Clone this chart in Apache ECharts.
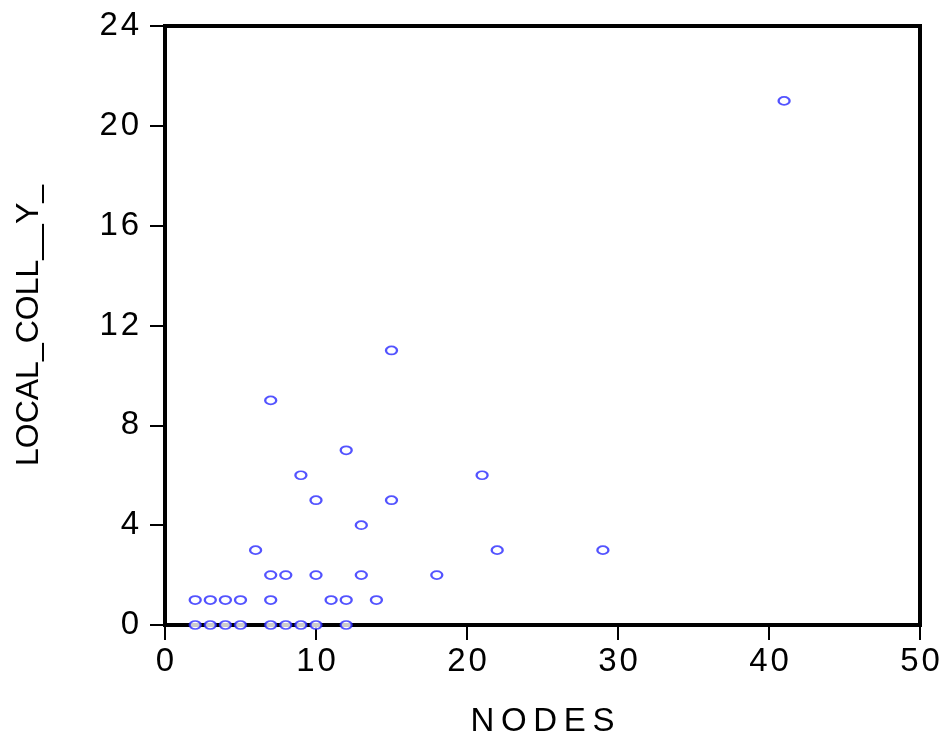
<!DOCTYPE html>
<html><head><meta charset="utf-8">
<script src="https://cdn.jsdelivr.net/npm/echarts@6/dist/echarts.min.js"></script>
<style>html,body{margin:0;padding:0;background:#fff}#c{width:942px;height:740px}</style>
</head><body><div id="c"></div>
<script>
const nodes      = [2,3,4,5,7,8,9,10,12, 2,3,4,5,7,11,12,14, 7,8,10,13,18, 6,22,29, 13, 10,15, 9,21, 12, 7, 15, 41];
const localColl  = [0,0,0,0,0,0,0,0,0,  1,1,1,1,1,1,1,1,    2,2,2,2,2,    3,3,3,   4,  5,5,   6,6,  7,  9, 11, 21];
const xTicks = [0,10,20,30,40,50];
const yTicks = [0,4,8,12,16,20,24];
const xTitle = 'NODES';
const yTitle = 'LOCAL_COLL__Y_';

function spaced(s, sep){ return s.split('').join(sep); }
const FONT = 'Liberation Sans';
const data = nodes.map((x,i)=>[x, localColl[i]]);
const chart = echarts.init(document.getElementById('c'), null, {renderer:'canvas'});
chart.setOption({
  animation:false,
  backgroundColor:'#fff',
  grid:{left:165, right:22, top:26, bottom:115, containLabel:false, outerBoundsMode:'none',
        show:true, borderColor:'#000', borderWidth:4, backgroundColor:'transparent'},
  xAxis:{
    type:'value', min:xTicks[0], max:xTicks[xTicks.length-1], interval:10,
    name: spaced(xTitle,'\u2009'), nameLocation:'middle', nameGap:80,
    nameTextStyle:{fontFamily:FONT, fontSize:33, color:'#000'},
    axisLine:{show:true, onZero:false, lineStyle:{color:'#000', width:4}},
    axisTick:{show:true, inside:false, length:15, lineStyle:{color:'#000', width:2}},
    axisLabel:{fontFamily:FONT, fontSize:33, color:'#000', margin:20, formatter:v=>spaced(String(v),'\u200A')},
    splitLine:{show:false}
  },
  yAxis:{
    type:'value', min:yTicks[0], max:yTicks[yTicks.length-1], interval:4,
    name: yTitle, nameLocation:'middle', nameGap:120, nameRotate:90,
    nameTextStyle:{fontFamily:FONT, fontSize:32, color:'#000'},
    axisLine:{show:true, onZero:false, lineStyle:{color:'#000', width:4}},
    axisTick:{show:true, inside:false, length:15, lineStyle:{color:'#000', width:2}},
    axisLabel:{fontFamily:FONT, fontSize:33, color:'#000', margin:26, formatter:v=>spaced(String(v),'\u200A')},
    splitLine:{show:false}
  },
  series:[{
    type:'scatter', data:data, symbol:'emptyCircle', symbolSize:[11,8],
    itemStyle:{color:'#2828ff', borderWidth:1.5}
  }]
});
</script></body></html>
